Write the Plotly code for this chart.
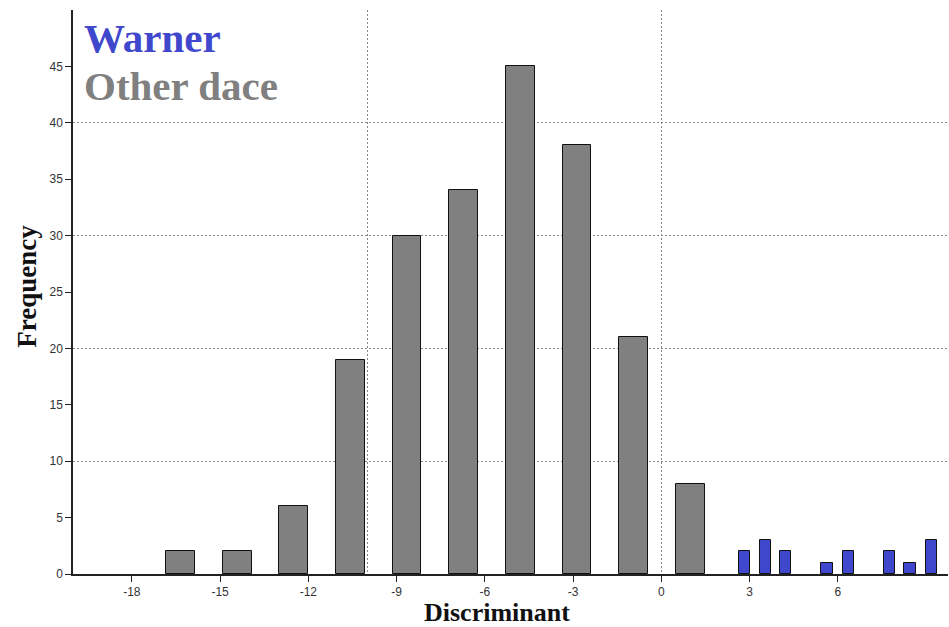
import plotly.graph_objects as go

# Data
other_centers = [-16.35, -14.42, -12.5, -10.57, -8.65, -6.72, -4.8, -2.87, -0.95, 0.98]
other_counts = [2, 2, 6, 19, 30, 34, 45, 38, 21, 8]
warner_centers = [2.82, 3.54, 4.22, 5.63, 6.35, 7.76, 8.45, 9.17]
warner_counts = [2, 3, 2, 1, 2, 2, 1, 3]
x_ticks = [-18, -15, -12, -9, -6, -3, 0, 3, 6]
x_tick_text = ["-18", "-15", "-12", "-9", "-6", "-3", "0", "3", "6"]
y_ticks = [0, 5, 10, 15, 20, 25, 30, 35, 40, 45]

GREY = "#808080"
BLUE = "#3f48cc"
XR = [-20, 9.74]
YR = [0, 50]

fig = go.Figure()
fig.add_trace(go.Bar(x=other_centers, y=other_counts, width=0.975,
                     marker=dict(color=GREY, line=dict(color="#111", width=1)),
                     showlegend=False, hoverinfo="x+y"))
fig.add_trace(go.Bar(x=warner_centers, y=warner_counts, width=0.385,
                     marker=dict(color=BLUE, line=dict(color="#111", width=1)),
                     showlegend=False, hoverinfo="x+y"))
# invisible trace to carry the grid axes
fig.add_trace(go.Scatter(x=[XR[0]], y=[YR[0]], xaxis="x2", yaxis="y2", mode="markers",
                         marker=dict(opacity=0), showlegend=False, hoverinfo="skip"))

tickfont = dict(family="Liberation Sans, Arial, sans-serif", size=12, color="#333")
serif = "Liberation Serif, Times New Roman, serif"
fig.update_layout(
    width=949, height=627,
    margin=dict(l=73, r=1, t=10, b=53),
    paper_bgcolor="white", plot_bgcolor="white",
    bargap=0, barmode="overlay",
    xaxis=dict(range=XR, tickmode="array", tickvals=x_ticks, ticktext=x_tick_text,
               showgrid=False, zeroline=False,
               showline=True, linecolor="#222", linewidth=1.5, ticks="outside", ticklen=6,
               tickcolor="#222", tickfont=tickfont),
    yaxis=dict(range=YR, tickmode="array", tickvals=y_ticks, showgrid=False, zeroline=False,
               showline=True, linecolor="#222", linewidth=1.5, ticks="outside", ticklen=6,
               tickcolor="#222", tickfont=tickfont),
    xaxis2=dict(range=XR, overlaying="x", tickmode="linear", tick0=0, dtick=10, showgrid=True,
                gridcolor="#888", griddash="2px,2px", gridwidth=1, showticklabels=False,
                zeroline=False, showline=False, ticks=""),
    yaxis2=dict(range=YR, overlaying="y", tickmode="linear", tick0=0, dtick=10, showgrid=True,
                gridcolor="#888", griddash="2px,2px", gridwidth=1, showticklabels=False,
                zeroline=False, showline=False, ticks=""),
    annotations=[
        dict(text="<b>Warner</b>", x=0.0103, y=0.95, xref="paper", yref="paper",
             xanchor="left", yanchor="middle", showarrow=False,
             font=dict(family=serif, size=41, color=BLUE)),
        dict(text="<b>Other dace</b>", x=0.0103, y=0.865, xref="paper", yref="paper",
             xanchor="left", yanchor="middle", showarrow=False,
             font=dict(family=serif, size=41, color=GREY)),
        dict(text="<b>Discriminant</b>", x=0.4846, y=-0.0691, xref="paper", yref="paper",
             xanchor="center", yanchor="middle", showarrow=False,
             font=dict(family=serif, size=26, color="#111")),
        dict(text="<b>Frequency</b>", x=-0.0526, y=0.511, xref="paper", yref="paper",
             xanchor="center", yanchor="middle", showarrow=False, textangle=-90,
             font=dict(family=serif, size=27, color="#111")),
    ],
)
fig.write_html("out.html", config={"displayModeBar": False},
               post_script="document.body.style.margin='0';")
